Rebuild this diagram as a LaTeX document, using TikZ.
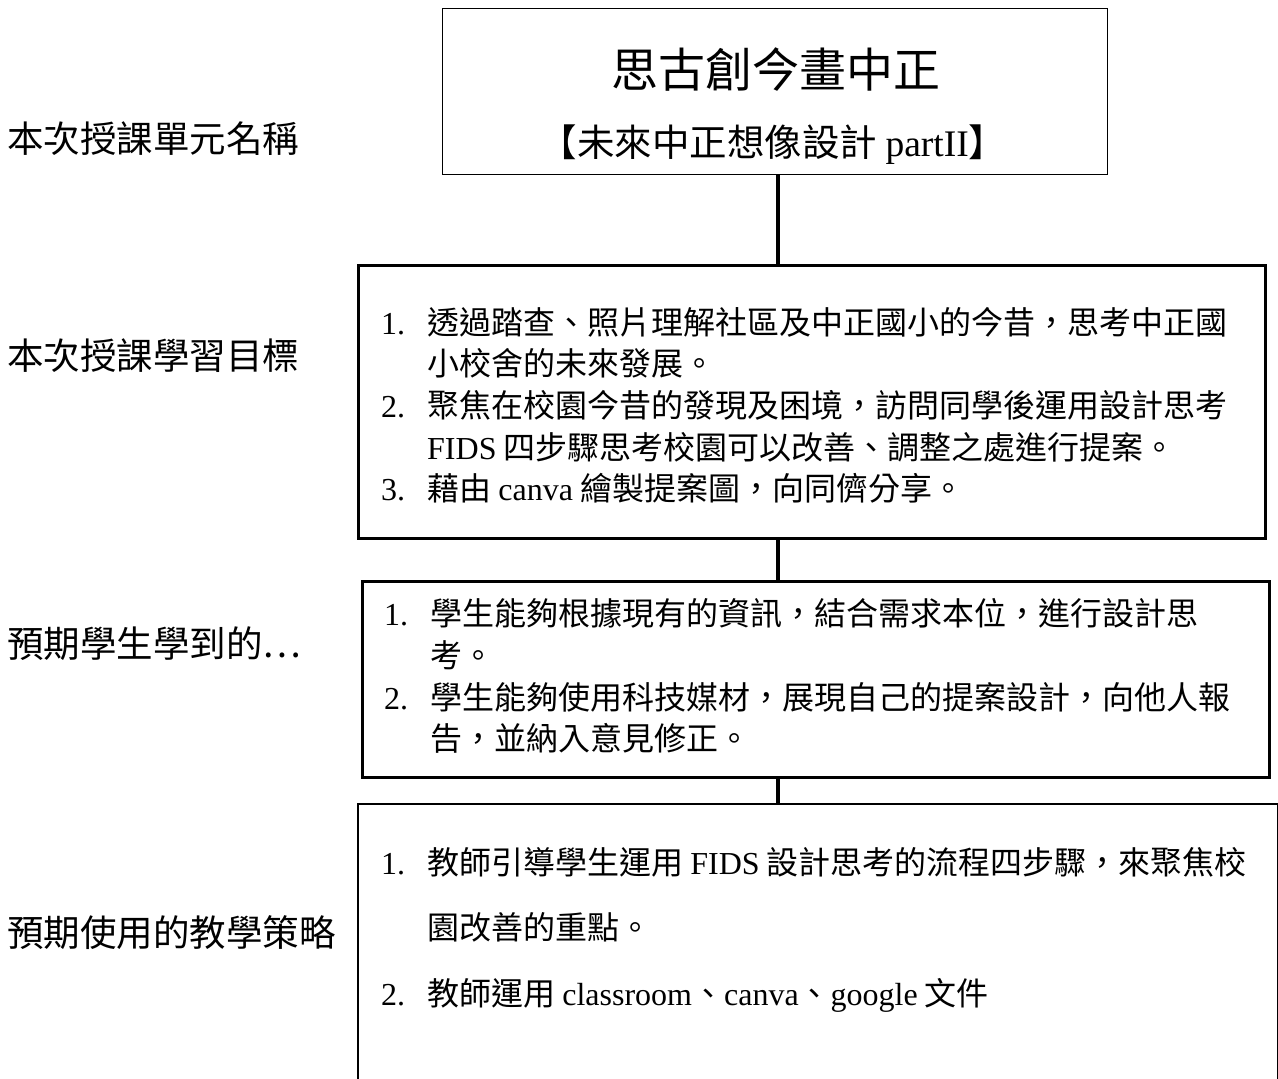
\documentclass[tikz,border=0pt]{standalone}
\usepackage{fontspec}
\setmainfont{Noto Sans CJK TC}
\newfontfamily\lat{Liberation Serif}
\begin{document}
\begin{tikzpicture}[x=1pt,y=-1pt,
  box/.style={draw=black, inner sep=0pt, anchor=north west},
  conn/.style={draw=black, line width=3.4pt},
  lbl/.style={anchor=west, inner sep=0pt, text height=32.1pt, text depth=4.4pt, font=\fontsize{36.5}{40}\selectfont},
  body/.style={anchor=west, inner sep=0pt, text height=28.2pt, text depth=3.8pt, font=\fontsize{32}{40}\selectfont},
  num/.style={anchor=west, inner sep=0pt, text height=28.2pt, text depth=3.8pt, font=\lat\fontsize{32}{40}\selectfont}]
\clip (0,0) rectangle (1278,1079);
\fill[white] (0,0) rectangle (1278,1079);
\coordinate (cx) at (778,0);

% boxes
\node[box, line width=1.4pt, minimum width=665pt, minimum height=166pt] (b1) at (442,8) {};
\node[box, line width=2.6pt, minimum width=907pt, minimum height=273pt] (b2) at (357,264) {};
\node[box, line width=2.6pt, minimum width=907pt, minimum height=196pt] (b3) at (361,580) {};
\node[box, line width=2pt, minimum width=920pt, minimum height=320pt] (b4) at (357,803) {};

% connectors
\draw[conn] (b1.south -| cx) -- (b2.north -| cx);
\draw[conn] (b2.south -| cx) -- (b3.north -| cx);
\draw[conn] (b3.south -| cx) -- (b4.north -| cx);

% title
\node[inner sep=0pt, text height=41.4pt, text depth=5.6pt, font=\fontsize{47}{50}\selectfont] (t1) at (776,70) {思古創今畫中正};
\node[inner sep=0pt, text height=33pt, text depth=4.5pt, font=\fontsize{37.5}{40}\selectfont] (t2) at (773,142) {【未來中正想像設計 {\lat partII}】};

% labels
\node[lbl] (l1) at (7,139) {本次授課單元名稱};
\node[lbl] (l2) at (7,356) {本次授課學習目標};
\node[lbl] (l3) at (7,644) {預期學生學到的…};
\node[lbl] (l4) at (7,933) {預期使用的教學策略};

% box 2 text
\node[num] (n21) at (381,322) {1.};
\node[body] (s21) at (427,322) {透過踏查、照片理解社區及中正國小的今昔，思考中正國};
\node[body] (s22) at (427,363) {小校舍的未來發展。};
\node[num] (n23) at (381,405) {2.};
\node[body] (s23) at (427,405) {聚焦在校園今昔的發現及困境，訪問同學後運用設計思考};
\node[body] (s24) at (427,447) {{\lat FIDS} 四步驟思考校園可以改善、調整之處進行提案。};
\node[num] (n25) at (381,488) {3.};
\node[body] (s25) at (427,488) {藉由 {\lat canva} 繪製提案圖，向同儕分享。};

% box 3 text
\node[num] (n31) at (384,613) {1.};
\node[body] (s31) at (430,613) {學生能夠根據現有的資訊，結合需求本位，進行設計思};
\node[body] (s32) at (430,655) {考。};
\node[num] (n33) at (384,697) {2.};
\node[body] (s33) at (430,697) {學生能夠使用科技媒材，展現自己的提案設計，向他人報};
\node[body] (s34) at (430,738) {告，並納入意見修正。};

% box 4 text
\node[num] (n41) at (381,862) {1.};
\node[body] (s41) at (427,862) {教師引導學生運用 {\lat FIDS} 設計思考的流程四步驟，來聚焦校};
\node[body] (s42) at (427,927) {園改善的重點。};
\node[num] (n43) at (381,993) {2.};
\node[body] (s43) at (427,993) {教師運用 {\lat classroom}、{\lat canva}、{\lat google} 文件};
\end{tikzpicture}
\end{document}
